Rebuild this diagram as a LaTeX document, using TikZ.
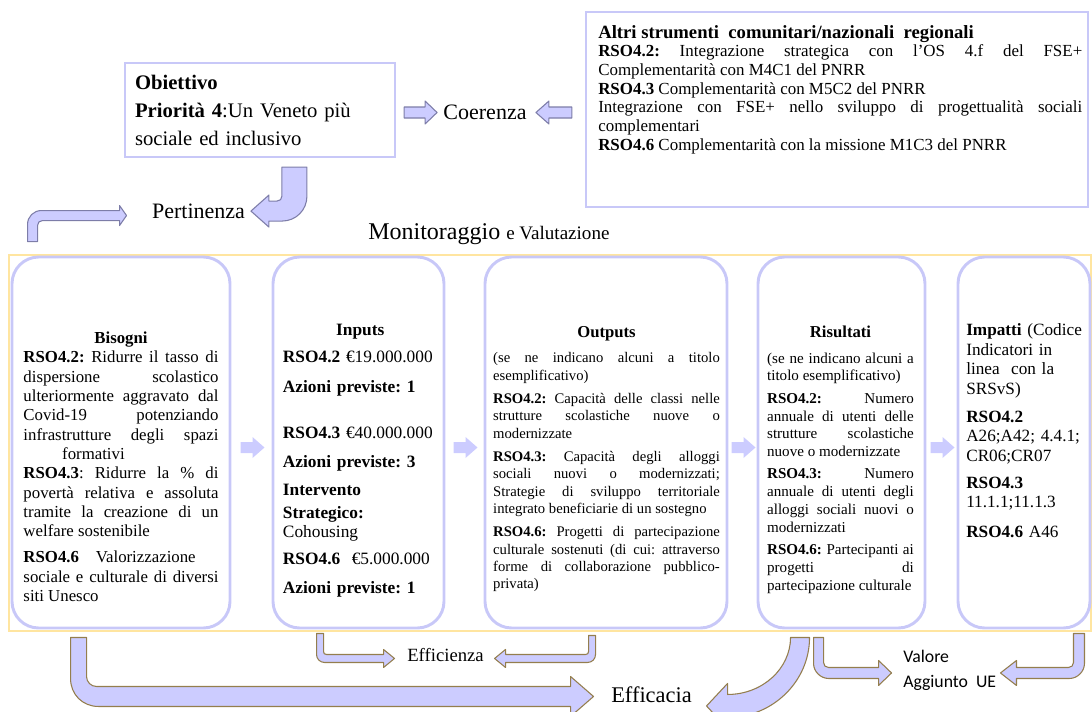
\documentclass[tikz,border=0pt]{standalone}
\usepackage{fontspec}
\setmainfont{Liberation Serif}[BoldFont={Liberation Serif Bold}]
\newfontfamily\calibrifont{Carlito}
\usetikzlibrary{calc}
\setlength{\parindent}{0pt}
\frenchspacing
\tolerance=10000
\hbadness=10000
\definecolor{lav}{HTML}{CCCCFF}
\definecolor{boxlav}{HTML}{C8C8F8}
\definecolor{arrowbrown}{HTML}{947E4E}
\definecolor{arrowgrey}{HTML}{7D7DA8}
\definecolor{frameyellow}{HTML}{FFE5A0}
\newcommand{\fs}[2]{\fontsize{#1}{#2}\selectfont}

\begin{document}
\begin{tikzpicture}[x=0.75pt,y=-0.75pt]
  \tikzset{
    mainbox/.style={draw=boxlav, line width=2.2pt, rounded corners=20pt, minimum height=278.25pt, inner sep=0pt},
    topbox/.style={draw=boxlav, line width=1.6pt, inner sep=0pt},
    blockarrow/.style={fill=lav, draw=arrowbrown, line width=0.8pt, line join=round},
    hookarrow/.style={fill=lav, draw=arrowgrey, line width=0.8pt, line join=round},
    boxtext/.style={inner sep=0pt, align=justify},
    lbl/.style={inner sep=0pt}
  }
  \useasboundingbox (0,0) rectangle (1092,711);

  % top row
  \node[topbox, minimum width=202.5pt, minimum height=70.5pt, text width=187.5pt, align=left, font=\fs{15.5}{21}] (obj) at (260,110)
    {\textbf{Obiettivo}\\\textbf{Priorità 4}:Un\ Veneto più\\sociale ed inclusivo};
  \node[topbox, minimum width=376.5pt, minimum height=146.25pt] (alt) at (837,109.5) {};
  \node[boxtext, text width=363pt, anchor=base west, font=\fs{12.7}{14}] (altt) at (598,38) {%
    {\fs{14}{14}\textbf{Altri strumenti\ \ comunitari/nazionali\ \ regionali}}\par
    \textbf{RSO4.2:} Integrazione strategica con l’OS 4.f del FSE+\linebreak Complementarità con M4C1 del PNRR\par
    \textbf{RSO4.3} Complementarità con M5C2 del PNRR\par
    Integrazione con FSE+ nello sviluppo di progettualità sociali\linebreak complementari\par
    \textbf{RSO4.6} Complementarità con la missione M1C3 del PNRR};
  \node[lbl, font=\fs{16.5}{18}] (coer) at (485,112) {Coerenza};
  \node[lbl, font=\fs{16.5}{18}] (pert) at (198.5,211) {Pertinenza};
  \node[lbl, anchor=base west] (monv) at (368,239) {\fs{18}{20}Monitoraggio \fs{14.3}{16}e Valutazione};

  % main row
  \draw[frameyellow, line width=0.8pt] (9,255) rectangle (1091,631);
  \node[mainbox, minimum width=163.5pt] (bis) at (121,442.5) {};
  \node[mainbox, minimum width=128.25pt] (inp) at (358.5,442.5) {};
  \node[mainbox, minimum width=181.5pt] (out) at (606,442.5) {};
  \node[mainbox, minimum width=125.25pt] (ris) at (841.5,442.5) {};
  \node[mainbox, minimum width=99pt] (imp) at (1024,442.5) {};

  \node[boxtext, text width=146.25pt, anchor=base, font=\fs{12.6}{14.5}] (bist) at (121,343.5) {%
    {\centering\textbf{Bisogni}\par}
    \textbf{RSO4.2:} Ridurre il tasso di\linebreak dispersione scolastico\linebreak ulteriormente aggravato dal\linebreak Covid-19 potenziando\linebreak infrastrutture degli spazi\linebreak\hspace*{29pt}formativi\par
    \textbf{RSO4.3}: Ridurre la \% di\linebreak povertà relativa e assoluta\linebreak tramite la creazione di un\linebreak welfare sostenibile\par
    \vspace{5pt}
    \textbf{RSO4.6}\quad Valorizzazione\linebreak sociale e culturale di diversi\linebreak siti Unesco};
  \node[boxtext, text width=116pt, anchor=base, align=left, font=\fs{13}{13.5}] (inpt) at (360.3,335.7) {%
    {\centering\textbf{Inputs}\par}
    \vspace{6.75pt}
    \textbf{RSO4.2} €19.000.000\\[9pt]
    \textbf{Azioni previste: 1}\\[21pt]
    \textbf{RSO4.3} €40.000.000\\[8.25pt]
    \textbf{Azioni previste: 3}\\[7.5pt]
    \textbf{Intervento}\\[3.75pt]
    \textbf{Strategico:}\\[0.75pt]
    Cohousing\\[6.75pt]
    \textbf{RSO4.6}\ \ €5.000.000\\[8.25pt]
    \textbf{Azioni previste: 1}};
  \node[boxtext, text width=170pt, anchor=base, font=\fs{11}{13}] (outt) at (606.5,337.5) {%
    {\centering\fs{12.5}{13}\textbf{Outputs}\par}
    \vspace{6pt}
    (se ne indicano alcuni a titolo\linebreak esemplificativo)\par\vspace{4.5pt}
    \textbf{RSO4.2:} Capacità delle classi nelle\linebreak strutture scolastiche nuove o\linebreak modernizzate\par\vspace{4.5pt}
    \textbf{RSO4.3:} Capacità degli alloggi\linebreak sociali nuovi o modernizzati;\linebreak Strategie di sviluppo territoriale\linebreak integrato beneficiarie di un sostegno\par\vspace{4.5pt}
    \textbf{RSO4.6:} Progetti di partecipazione\linebreak culturale sostenuti (di cui: attraverso\linebreak forme di collaborazione pubblico-\linebreak privata)};
  \node[boxtext, text width=110pt, anchor=base, font=\fs{11.3}{13.3}] (rist) at (840.5,337.5) {%
    {\centering\fs{12.5}{13}\textbf{Risultati}\par}
    \vspace{6pt}
    (se ne indicano alcuni a\linebreak titolo esemplificativo)\par\vspace{3.5pt}
    \textbf{RSO4.2:} Numero\linebreak annuale di utenti delle\linebreak strutture scolastiche\linebreak nuove o modernizzate\par\vspace{3.5pt}
    \textbf{RSO4.3:} Numero\linebreak annuale di utenti degli\linebreak alloggi sociali nuovi o\linebreak modernizzati\par\vspace{3.5pt}
    \textbf{RSO4.6:} Partecipanti ai\linebreak progetti di\linebreak partecipazione culturale};
  \node[boxtext, text width=90pt, anchor=base west, align=left, font=\fs{12.9}{14.6}] (impt) at (966,335.7) {%
    \textbf{Impatti} (Codice\\ Indicatori in\\ linea\ \ con la\\ SRSvS)\\[6.6pt]
    \textbf{RSO4.2}\\ A26;A42; 4.4.1;\\ CR06;CR07\\[5.65pt]
    \textbf{RSO4.3}\\ 11.1.1;11.1.3\\[7.5pt]
    \textbf{RSO4.6} A46};

  \foreach \a/\b in {bis/inp,inp/out,out/ris,ris/imp}
    \fill[lav] ($(\a.east)!0.5!(\b.west)+(-11,-0.5)$) -- ++(12,0) -- ++(0,-5) -- ++(12,10.5) -- ++(-12,10.5) -- ++(0,-5) -- ++(-12,0) -- cycle;

  % bottom labels
  \node[lbl, font=\fs{14}{16}] (effi) at (445.5,655) {Efficienza};
  \node[lbl, font=\fs{16.8}{18}] (effa) at (651.5,695) {Efficacia};
  \node[lbl, font=\calibrifont\fs{13.3}{18.75}, align=left, anchor=west] (vaue) at (903,670) {Valore\\Aggiunto\ \ UE};

  % arrows to Coerenza and Pertinenza
  \draw[hookarrow] ($(obj.east)+(8,-3)$) -- ++(21,0) -- ++(0,-6) -- ++(12,11.5) -- ++(-12,11.5) -- ++(0,-6) -- ++(-21,0) -- cycle;
  \draw[hookarrow] ($(alt.west)+(-13,-2.5)$) -- ++(-23,0) -- ++(0,-6) -- ++(-13,11.5) -- ++(13,11.5) -- ++(0,-6) -- ++(23,0) -- cycle;
  \draw[hookarrow] ($(obj.south west)+(183,9)$) -- ++(0,29) .. controls +(0,14) and +(14,0) .. ++(-25,25) -- ++(-13,0) -- ++(0,6) -- ++(-18,-16) -- ++(18,-16) -- ++(0,6) -- ++(8,0) .. controls +(3,0) and +(0,3) .. ++(5,-5) -- ++(0,-29) -- cycle;
  \draw[hookarrow] ($(bis.north west)+(17,-14)$) -- ++(0,-17) .. controls +(0,-8) and +(-8,0) .. ++(14,-14) -- ++(78,0) -- ++(0,-5) -- ++(7,10) -- ++(-7,10) -- ++(0,-5) -- ++(-77,0) .. controls +(-3,0) and +(0,-3) .. ++(-5,5) -- ++(0,16) -- cycle;

  % arrows to Efficienza, Efficacia, Valore Aggiunto
  \draw[blockarrow] ($(bis.south west)+(60,8)$) -- ++(0,41) .. controls +(0,16) and +(-16,0) .. ++(28,28) -- ++(472,0) -- ++(0,10) -- ++(23,-20) -- ++(-23,-20) -- ++(0,10) -- ++(-474,0) .. controls +(-5.5,0) and +(0,5.5) .. ++(-10,-10) -- ++(0,-39) -- cycle;
  \draw[blockarrow] ($(ris.south west)+(34,8)$) -- ++(19,0) .. controls +(0,44) and +(45,0) .. ++(-82,80) -- ++(0,11) -- ++(-21,-22.5) -- ++(21,-22.5) -- ++(0,11) .. controls +(35,0) and +(0,31) .. ++(63,-57) -- cycle;
  \draw[blockarrow] ($(ris.south west)+(57,8)$) -- ++(0,26) .. controls +(0,8) and +(-8,0) .. ++(15,15) -- ++(50,0) -- ++(0,7) -- ++(13,-12.5) -- ++(-13,-12.5) -- ++(0,7) -- ++(-50,0) .. controls +(-3,0) and +(0,3) .. ++(-5,-5) -- ++(0,-25) -- cycle;
  \draw[blockarrow] ($(imp.south east)+(-7,4)$) -- ++(0,30) .. controls +(0,8) and +(8,0) .. ++(-15,15) -- ++(-53,0) -- ++(0,7) -- ++(-16,-12.5) -- ++(16,-12.5) -- ++(0,7) -- ++(52,0) .. controls +(3,0) and +(0,3) .. ++(5,-5) -- ++(0,-29) -- cycle;
  \draw[blockarrow] ($(inp.south west)+(45,4)$) -- ++(0,21) .. controls +(0,4.5) and +(-4.5,0) .. ++(8,8) -- ++(59,0) -- ++(0,5) -- ++(11,-9) -- ++(-11,-9) -- ++(0,5) -- ++(-57,0) .. controls +(-2,0) and +(0,2) .. ++(-3,-3) -- ++(0,-18) -- cycle;
  \draw[blockarrow] ($(out.south west)+(112,6)$) -- ++(0,19) .. controls +(0,4.5) and +(4.5,0) .. ++(-8,8) -- ++(-82,0) -- ++(0,5) -- ++(-11,-9) -- ++(11,-9) -- ++(0,5) -- ++(80,0) .. controls +(2,0) and +(0,2) .. ++(3,-3) -- ++(0,-16) -- cycle;
\end{tikzpicture}
\end{document}
